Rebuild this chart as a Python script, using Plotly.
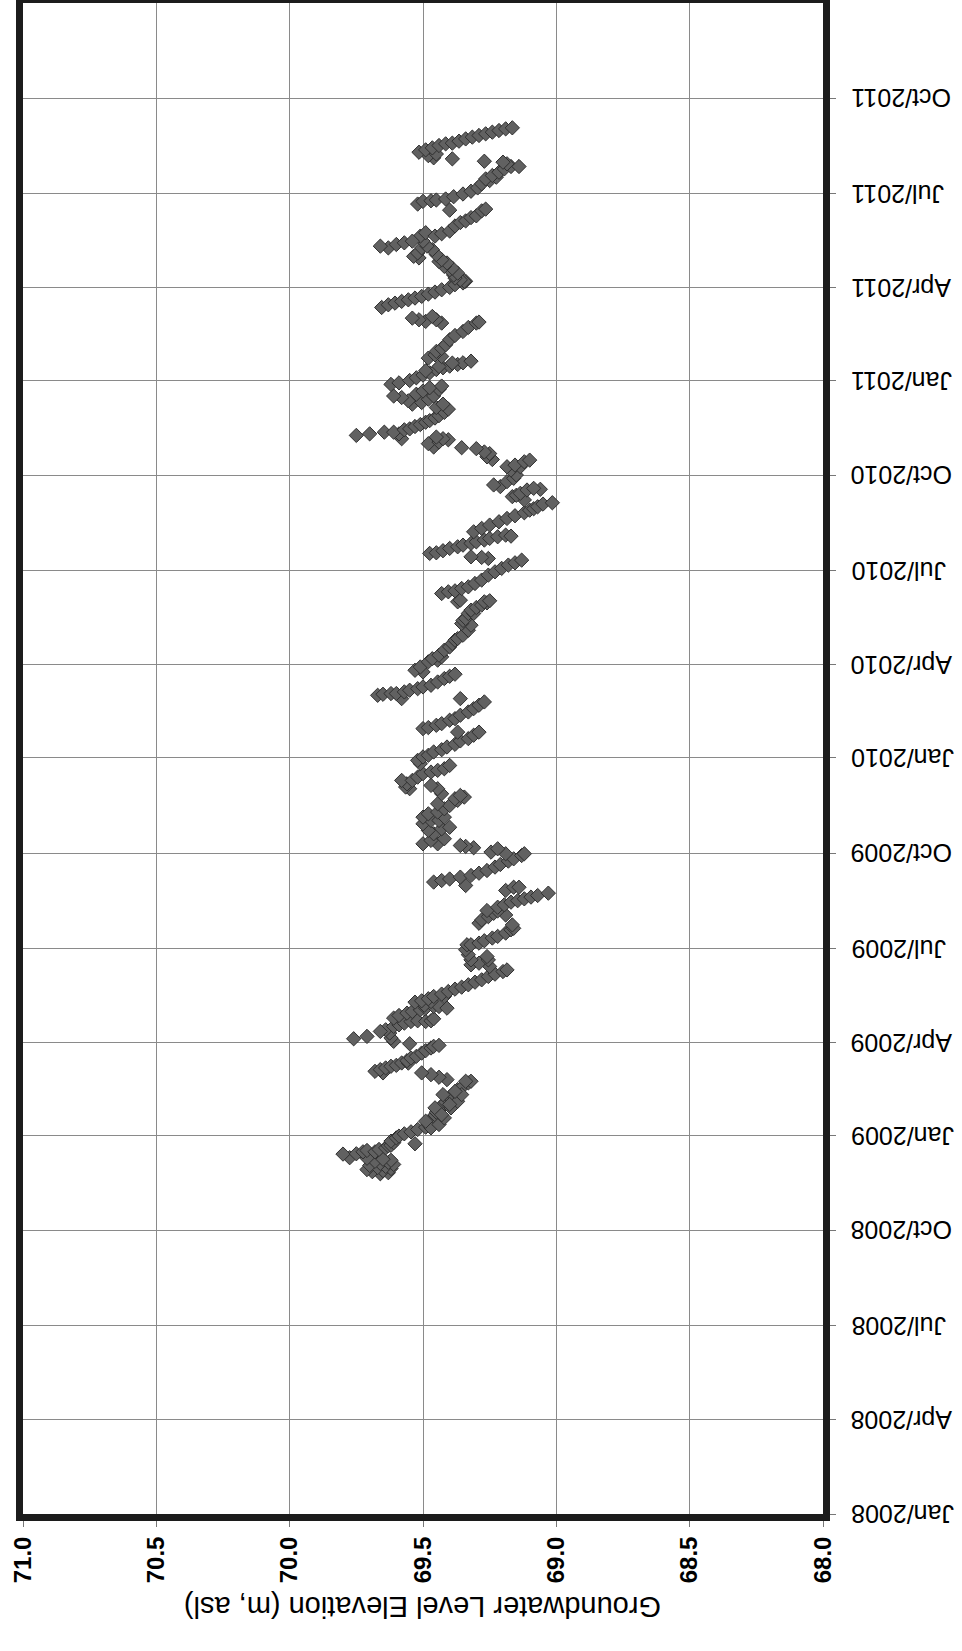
import pandas as pd
import plotly.graph_objects as go

# Logger record: days since RECORD_START and groundwater level (m asl)
RECORD_START = "2009-01-01"

record_day = [
    -37, -36, -35, -34, -33, -32, -31, -30, -29, -28, -27, -26, -25, -24, -23, -22,
    -21.5, -18, -17.7, -15.8, -14.5, -15.8, -13.5, -12, -10, -9.5, -8, -7,
    -5.5, -2.3, -0.6, 1.6, 3.5, 5.8, 8, 10.6, 13, 15.4, 17.5, 20, 22.5, 25, 27.5, 30, 32.3, 34.7, 37, 39.5, 42, 44.4, 47.6, 50.8, 52.4,
    7.4, 10.6, 13.8, 17, 26.7, 26.7, 33, 39.5, 39.5, 42.6, 52.4, 20, 30,
    54, 56.3, 58.8, 60.5,
    60.5, 62, 63.7, 65.3, 66.9, 67.8, 70.1, 70, 72.3, 74.9, 76.5, 79.7, 82, 84.6, 86.2, 87.1,
    88.7, 91, 94.2, 99, 102.2,
    93.5, 95.8, 100.6,
    105.4, 107, 108.6, 110.2, 110.9, 110.2, 110.9, 112.8,
    113.5, 116, 118.3, 119.9, 121.5, 123.1, 124.7, 124.7, 123.1,
    126, 128.9, 129.5, 130.2, 132.2, 134.4, 134.4, 136.7, 139.2, 141.5, 143.4, 145.7, 148.2, 150.5, 153.7, 156, 158.5, 160.1,
    163.4, 165, 166.6, 169.8, 173,
    169.8, 174.8, 179.6, 184.4,
    184.4, 186, 188.3, 190.9, 192.5, 195.7, 198.9, 200.3, 203.6,
    205.2, 208.4, 211.6, 213.2, 214.8, 217.1,
    217.5, 220.7, 223, 225.6, 227, 228.8, 230.5, 232, 234.3,
    236.9, 240, 240, 241.7,
    245, 246.5, 248, 249.8, 251.4, 253.6, 256.2, 259.5, 262, 265.3, 267.5, 270.7, 272.4,
    272.4, 274, 277.2, 278.2, 279.5, 280.4,
    282, 282, 285.3, 286.9, 291.7, 295, 296.5, 298, 301.4, 304.6, 304.6, 307.8, 307.8, 311, 312.7, 315.9, 319, 320.7, 324, 325.6, 327.2, 328.8,
    330.4, 335.3, 338.5,
    335.3, 336.9, 340, 343.3, 343.3, 346.5, 349.8, 351.4, 353, 354.6, 357.8,
    359.5, 362.7, 366, 367.6, 370.8, 373, 375.6, 378.2, 381.5, 383.7, 387, 390,
    390,
    393.4, 394.4, 396.6, 398.2, 401.5, 403, 406.3, 409.5, 412.7, 416, 419.2,
    422.4, 422.4,
    425.6, 426.6, 427.3, 427.3, 428.9, 430.5, 432, 433.7, 435.3, 438.5, 441.8, 444, 446,
    448.2, 449.8, 453, 458, 459.6, 461, 462.8, 464.4, 469.2, 472.4, 475.6, 478.9, 480.5, 483.7, 488.5, 493.4,
    495, 498, 499.9, 504.7, 504.7, 507.9, 510.5, 512.8, 515, 516, 517,
    516, 517.6,
    524, 525.7, 526.6, 528.9, 530.5, 533.7, 537, 541.8, 545, 548.3, 551.5, 553.7, 556.3,
    557.9, 558.9, 559.5,
    562.8, 563.4, 565.4, 567.6, 569.2, 570.8, 572.5, 574, 575.7, 577.3, 578.9, 580.5, 579.5,
    583.7, 587, 590.2, 593.4, 596.6, 599.2, 602.1, 604.6, 606, 607.9, 610.5, 611.8,
    614.5, 617.7, 619, 620.9, 624.1, 624.8, 625.7,
    627.4, 629, 632.2, 635.4, 638.6, 643.4, 646.6, 646.6, 648.2, 651.4, 653,
    653.6, 656.2, 659.3, 660.9, 664.1,
    665,
    665.7, 668.9, 670.5, 672.7, 673.7, 675.3,
    673.7, 676.9, 678.4, 678.4, 680, 680,
    682.3, 683.2, 685.5, 687.4, 689.6, 691.2, 693.7, 696, 699.1, 702.3,
    703.9, 707.1, 707.1, 708.7, 710.3, 711.9, 713.5, 715, 715, 716.7, 719.8, 721.4, 723, 724.6,
    726.2, 727.7, 730, 732.6, 735.2, 737.4, 740.6, 742.3, 743.9, 745.5, 747.1, 748.7,
    739.4, 743.5, 746.8,
    751.6, 753.2, 754.8, 758.1, 761, 764.5, 769.4, 773.5, 777.4, 781.3, 785.5, 786.5,
    785.5, 787.1, 788.7, 788.7, 790.3, 791.9,
    800.6, 803.2, 804.8, 806.5, 808, 809.7, 811.3, 813.5, 815.5, 817.7, 820, 822.6, 824.3, 825.9, 825.9,
    827.3, 829, 832, 833.8, 837, 838.7, 840.3, 843.6, 845, 846.8, 848.5, 850, 851.7, 853.3, 856.6, 858.2, 859.9, 864.7, 869.6, 872.9,
    858.2, 859.9, 861.5, 863.1, 864.7,
    869.6, 871.9, 874.5, 879.4, 882.7, 884.3, 887.5, 889.2, 894, 895.7,
    894.7,
    900.6, 903.2, 903.8, 904.5, 905.5, 907.7, 910.3, 913, 916.2, 920.1, 923.3, 924.9, 926.6, 928.2, 931.4, 934.6, 936.9, 936.9, 939.5, 941.1,
    942, 944.3,
    945.3, 947.4, 949, 950.7, 953, 954.9, 957.2, 958.8, 959.5, 961.4, 963.6, 965.3, 966.9, 968.5, 970.1, 971.7, 973.3, 974.3,
]

level_m = [
    69.66, 69.63, 69.69, 69.65, 69.71, 69.62, 69.67, 69.64, 69.70, 69.61, 69.66, 69.63, 69.68, 69.62, 69.65, 69.71,
    69.775, 69.80, 69.75, 69.725, 69.71, 69.68, 69.665, 69.64, 69.63, 69.62, 69.53, 69.61,
    69.62, 69.60, 69.59, 69.57, 69.545, 69.52, 69.49, 69.48, 69.475, 69.47, 69.46, 69.455, 69.45, 69.44, 69.43, 69.425, 69.415, 69.405, 69.40, 69.39, 69.38, 69.37, 69.35, 69.33, 69.32,
    69.47, 69.44, 69.49, 69.42, 69.395, 69.455, 69.37, 69.425, 69.355, 69.38, 69.34, 69.43, 69.40,
    69.41, 69.44, 69.47, 69.505,
    69.65, 69.68, 69.66, 69.64, 69.62, 69.60, 69.58, 69.555, 69.56, 69.545, 69.525, 69.505, 69.49, 69.47, 69.46, 69.44,
    69.55, 69.61, 69.62, 69.625, 69.64,
    69.76, 69.71, 69.66,
    69.61, 69.59, 69.57, 69.545, 69.52, 69.49, 69.47, 69.46,
    69.61, 69.59, 69.56, 69.54, 69.51, 69.49, 69.46, 69.44, 69.41,
    69.495, 69.53, 69.47, 69.505, 69.48, 69.46, 69.42, 69.43, 69.405, 69.38, 69.355, 69.33, 69.305, 69.28, 69.255, 69.23, 69.20, 69.185,
    69.25, 69.32, 69.29, 69.255, 69.26,
    69.32, 69.33, 69.34, 69.335,
    69.32, 69.29, 69.27, 69.24, 69.22, 69.19, 69.17, 69.16, 69.165,
    69.29, 69.28, 69.255, 69.19, 69.235, 69.22,
    69.26, 69.22, 69.195, 69.17, 69.145, 69.12, 69.095, 69.07, 69.03,
    69.19, 69.16, 69.14, 69.34,
    69.46, 69.43, 69.40, 69.36, 69.32, 69.29, 69.26, 69.23, 69.21, 69.18, 69.16, 69.13, 69.12,
    69.19, 69.245, 69.22, 69.31, 69.34, 69.36,
    69.50, 69.445, 69.47, 69.42, 69.46, 69.48, 69.43, 69.40, 69.50, 69.47, 69.44, 69.42, 69.50, 69.48, 69.445, 69.42, 69.40, 69.445, 69.37, 69.38, 69.345, 69.36,
    69.43, 69.445, 69.47,
    69.55, 69.565, 69.56, 69.58, 69.54, 69.52, 69.50, 69.47, 69.445, 69.42, 69.40,
    69.51, 69.52, 69.50, 69.48, 69.46, 69.43, 69.41, 69.38, 69.36, 69.33, 69.31, 69.29,
    69.37,
    69.50, 69.48, 69.45, 69.43, 69.40, 69.38, 69.36, 69.33, 69.31, 69.29, 69.27,
    69.36, 69.58,
    69.67, 69.65, 69.62, 69.60, 69.57, 69.55, 69.52, 69.50, 69.47, 69.445, 69.42, 69.40, 69.38,
    69.50, 69.53, 69.51, 69.48, 69.445, 69.465, 69.43, 69.44, 69.42, 69.40, 69.39, 69.38, 69.37, 69.35, 69.33, 69.32,
    69.355, 69.35, 69.34, 69.33, 69.31, 69.32, 69.30, 69.28, 69.26, 69.27, 69.25,
    69.37, 69.36,
    69.43, 69.405, 69.38, 69.355, 69.33, 69.305, 69.28, 69.255, 69.23, 69.205, 69.18, 69.155, 69.13,
    69.255, 69.28, 69.32,
    69.475, 69.45, 69.425, 69.40, 69.37, 69.35, 69.32, 69.30, 69.27, 69.25, 69.22, 69.19, 69.17,
    69.31, 69.28, 69.25, 69.215, 69.185, 69.155, 69.12, 69.10, 69.085, 69.07, 69.05, 69.015,
    69.12, 69.165, 69.15, 69.135, 69.11, 69.06, 69.085,
    69.21, 69.235, 69.185, 69.16, 69.15, 69.17, 69.185, 69.135, 69.155, 69.12, 69.10,
    69.24, 69.26, 69.25, 69.27, 69.30,
    69.355,
    69.46, 69.48, 69.44, 69.405, 69.425, 69.45,
    69.58, 69.75, 69.70, 69.59, 69.645, 69.61,
    69.57, 69.55, 69.53, 69.51, 69.49, 69.475, 69.455, 69.44, 69.42, 69.405,
    69.45, 69.54, 69.425, 69.505, 69.555, 69.48, 69.58, 69.61, 69.46, 69.525, 69.50, 69.44, 69.475, 69.43,
    69.62, 69.59, 69.55, 69.525, 69.50, 69.475, 69.45, 69.425, 69.40, 69.37, 69.35, 69.32,
    69.49, 69.44, 69.39,
    69.48, 69.43, 69.455, 69.45, 69.43, 69.415, 69.40, 69.38, 69.35, 69.33, 69.30, 69.29,
    69.43, 69.49, 69.515, 69.45, 69.54, 69.465,
    69.655, 69.63, 69.605, 69.58, 69.555, 69.53, 69.505, 69.48, 69.455, 69.43, 69.40, 69.38, 69.35, 69.34, 69.345,
    69.36, 69.38, 69.385, 69.37, 69.40, 69.39, 69.42, 69.41, 69.44, 69.43, 69.515, 69.535, 69.45, 69.52, 69.465, 69.505, 69.485, 69.50, 69.51, 69.49,
    69.63, 69.66, 69.60, 69.57, 69.54,
    69.455, 69.43, 69.40, 69.38, 69.36, 69.34, 69.32, 69.30, 69.28, 69.265,
    69.40,
    69.52, 69.50, 69.47, 69.45, 69.415, 69.385, 69.35, 69.32, 69.295, 69.28, 69.25, 69.265, 69.225, 69.24, 69.215, 69.195, 69.17, 69.14, 69.185, 69.20,
    69.27, 69.39,
    69.46, 69.48, 69.45, 69.515, 69.49, 69.465, 69.44, 69.415, 69.39, 69.365, 69.34, 69.315, 69.29, 69.265, 69.24, 69.215, 69.19, 69.165,
]

level_ticks = [71.0, 70.5, 70.0, 69.5, 69.0, 68.5, 68.0]
level_range = [71.0, 68.0]

date_ticks = [
    "2008-01-01", "2008-04-01", "2008-07-01", "2008-10-01",
    "2009-01-01", "2009-04-01", "2009-07-01", "2009-10-01",
    "2010-01-01", "2010-04-01", "2010-07-01", "2010-10-01",
    "2011-01-01", "2011-04-01", "2011-07-01", "2011-10-01",
]
date_labels = [
    "Jan/2008", "Apr/2008", "Jul/2008", "Oct/2008",
    "Jan/2009", "Apr/2009", "Jul/2009", "Oct/2009",
    "Jan/2010", "Apr/2010", "Jul/2010", "Oct/2010",
    "Jan/2011", "Apr/2011", "Jul/2011", "Oct/2011",
]
date_range = ["2008-01-01", "2012-01-01"]
axis_title = "Groundwater Level Elevation (m, asl)"

assert len(record_day) == len(level_m), (len(record_day), len(level_m))

dates = pd.Timestamp(RECORD_START) + pd.to_timedelta(record_day, unit="D")

FONT = "Liberation Sans, Arial, Helvetica, sans-serif"

fig = go.Figure(
    go.Scatter(
        x=level_m,
        y=dates,
        mode="markers",
        marker=dict(symbol="diamond", size=11, color="#616161",
                    line=dict(color="#303030", width=1)),
        hoverinfo="skip",
    )
)

W, H = 962, 1651
L, R, T, B = 23, 139, 3, 137
plot_h = H - T - B

fig.update_layout(
    width=W, height=H,
    margin=dict(l=L, r=R, t=T, b=B),
    plot_bgcolor="white", paper_bgcolor="white",
    showlegend=False,
    template="none",
)

fig.update_xaxes(
    range=level_range,
    tickvals=level_ticks,
    ticktext=[f"{v:.1f}" for v in level_ticks],
    tickangle=-90,
    tickfont=dict(family=FONT, size=24, color="black", weight="bold"),
    showgrid=True, gridcolor="#8a8a8a", gridwidth=1,
    showline=True, mirror=True, linecolor="#1c1c1c", linewidth=7,
    ticks="outside", ticklen=6, tickcolor="#777777", tickwidth=1,
    zeroline=False, automargin=False,
)

fig.update_yaxes(
    type="date",
    range=date_range,
    tickvals=date_ticks,
    showticklabels=False,
    side="right",
    showgrid=True, gridcolor="#8a8a8a", gridwidth=1,
    showline=True, mirror=True, linecolor="#1c1c1c", linewidth=7,
    ticks="outside", ticklen=6, tickcolor="#777777", tickwidth=1,
    zeroline=False, automargin=False,
)

# Upside-down date tick labels to the right of the frame
for d, lab in zip(date_ticks, date_labels):
    fig.add_annotation(
        text=lab, xref="paper", yref="y",
        x=1.0, y=d, xanchor="left", yanchor="middle",
        xshift=26, showarrow=False, textangle=180,
        font=dict(family=FONT, size=25, color="black"),
    )

fig.add_annotation(
    text=axis_title,
    xref="paper", yref="paper",
    x=0.5, y=-(1625 - (H - B)) / plot_h,
    showarrow=False, textangle=180,
    font=dict(family=FONT, size=29, color="black"),
)

fig.write_html(
    "out.html",
    config={"displayModeBar": False},
    post_script="document.body.style.margin='0';document.body.style.overflow='hidden';",
)
